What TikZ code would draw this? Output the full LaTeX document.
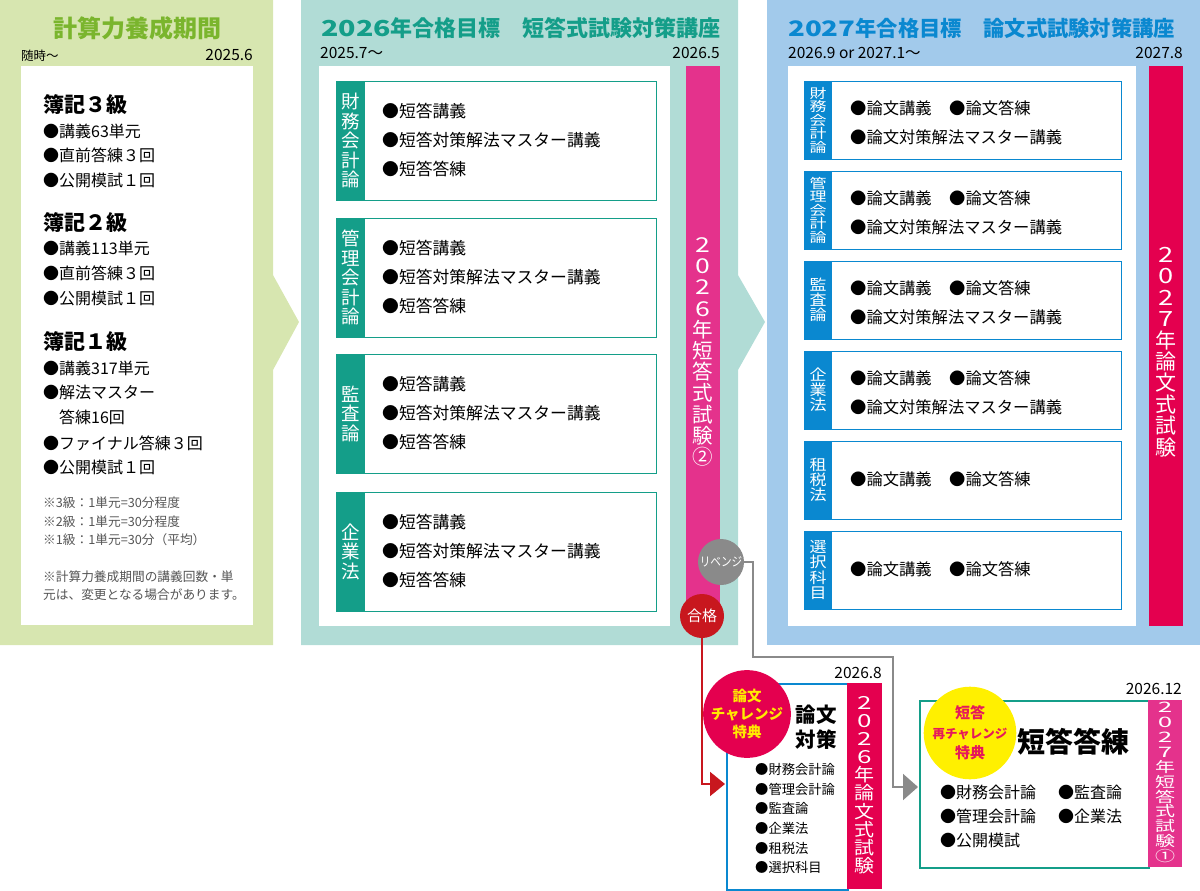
\documentclass[tikz,border=0pt]{standalone}
\usepackage{fontspec}
\usepackage{graphicx}
\setmainfont{Noto Sans CJK JP}
\usetikzlibrary{arrows.meta}
\definecolor{greenbg}{HTML}{D7E6B0}
\definecolor{greentitle}{HTML}{7AB52D}
\definecolor{tealbg}{HTML}{B1DCD6}
\definecolor{tealdark}{HTML}{149E89}
\definecolor{bluebg}{HTML}{A2CAEB}
\definecolor{bluedark}{HTML}{0A88D0}
\definecolor{pinkbar}{HTML}{E4328C}
\definecolor{crimson}{HTML}{E4004F}
\definecolor{gokakured}{HTML}{C8171E}
\definecolor{revgrey}{HTML}{8A8A8A}
\definecolor{yel}{HTML}{FFF000}
\definecolor{yeltext}{HTML}{FFEA00}
\definecolor{tanred}{HTML}{E6195A}
\definecolor{notegrey}{HTML}{555555}
\newcommand\fz[1]{\fontsize{#1}{#1}\selectfont}
\newcommand\dd[1]{\scalebox{1.3}[1]{#1}}
\newcommand\vstk[3]{\scalebox{1}[#1]{\vbox{\baselineskip=#2\lineskiplimit=-100pt\lineskip=0pt\halign{\hfil##\hfil\cr#3\crcr}}}}
\begin{document}
\begin{tikzpicture}[x=1pt,y=-1pt,
  tx/.style={anchor=west,inner sep=0pt},
  txe/.style={anchor=east,inner sep=0pt},
  tc/.style={inner sep=0pt},
  tbox/.style={draw=tealdark,line width=1.2pt,fill=white,anchor=north west,minimum width=320pt,minimum height=119pt,inner sep=0pt},
  bbox/.style={draw=bluedark,line width=1.2pt,fill=white,anchor=north west,minimum width=317pt,minimum height=78pt,inner sep=0pt},
  tline/.style={tx,font=\fz{16.8}},
  bline/.style={tx,font=\fz{16.3}},
  gline/.style={tx,font=\fz{16}},
  ghead/.style={tx,font=\fz{21}\bfseries},
  note/.style={tx,font=\fz{12.7},text=notegrey},
  datel/.style={tx,font=\fz{15.5}},
  dater/.style={txe,font=\fz{15.5}},
  tstrip/.style={tc,text=white,font=\fz{18.5}},
  bstrip/.style={tc,text=white,font=\fz{17}},
  redline/.style={draw=gokakured,line width=2pt,-{Triangle[length=15pt,width=24pt]}},
  greyline/.style={draw=revgrey,line width=2pt,-{Triangle[length=15pt,width=26pt]}},
  bullets/.style={tx,font=\fz{13.3}}
]
\useasboundingbox (0,0) rectangle (1200,891);

% ===== green panel =====
\fill[greenbg] (0,0) -- (273,0) -- (273,275) -- (299,322) -- (273,370) -- (273,645) -- (0,645) -- cycle;
\fill[white] (21,66) rectangle (253,625);
\node[tc,font=\fz{24}\bfseries,text=greentitle] (gtitle) at (137,28) {計算力養成期間};
\node[tx,font=\fz{12.5}] (gfrom) at (21,56) {随時～};
\node[dater] (gto) at (253,55) {2025.6};
\node[ghead] (g1) at (43,105) {簿記３級};
\node[gline] (g2) at (43,131) {●講義63単元};
\node[gline] (g3) at (43,155) {●直前答練３回};
\node[gline] (g4) at (43,180) {●公開模試１回};
\node[ghead] (g5) at (43,223) {簿記２級};
\node[gline] (g6) at (43,248) {●講義113単元};
\node[gline] (g7) at (43,273) {●直前答練３回};
\node[gline] (g8) at (43,298) {●公開模試１回};
\node[ghead] (g9) at (43,342) {簿記１級};
\node[gline] (g10) at (43,368) {●講義317単元};
\node[gline] (g11) at (43,392) {●解法マスター};
\node[gline] (g12) at (59,417) {答練16回};
\node[gline] (g13) at (43,443) {●ファイナル答練３回};
\node[gline] (g14) at (43,467) {●公開模試１回};
\node[note] (n1) at (43,503) {※3級：1単元=30分程度};
\node[note] (n2) at (43,522) {※2級：1単元=30分程度};
\node[note] (n3) at (43,540) {※1級：1単元=30分（平均）};
\node[note] (n4) at (43,577) {※計算力養成期間の講義回数・単};
\node[note] (n5) at (43,595) {元は、変更となる場合があります。};

% ===== teal panel =====
\fill[tealbg] (301,0) -- (738,0) -- (738,275) -- (765,322) -- (738,370) -- (738,645) -- (301,645) -- cycle;
\fill[white] (319,66) rectangle (670,626);
\fill[pinkbar] (686,66) rectangle (720,626);
\node[tx,font=\fz{22}\bfseries,text=tealdark] (ttitle) at (321,28) {\dd{2026}年合格目標　短答式試験対策講座};
\node[datel] (tfrom) at (320,53) {2025.7～};
\node[dater] (tto) at (720,53) {2026.5};

\node[tbox] (tb1) at (336,81) {};
\fill[tealdark] (336,81) rectangle (365,200);
\node[tstrip] (tl1) at (350.5,140.5) {\vstk{1}{19.5pt}{財\cr 務\cr 会\cr 計\cr 論}};
\node[tline] (t11) at (382,111) {●短答講義};
\node[tline] (t12) at (382,140) {●短答対策解法マスター講義};
\node[tline] (t13) at (382,169) {●短答答練};

\node[tbox] (tb2) at (336,218) {};
\fill[tealdark] (336,218) rectangle (365,337);
\node[tstrip] (tl2) at (350.5,277.5) {\vstk{1}{19.5pt}{管\cr 理\cr 会\cr 計\cr 論}};
\node[tline] (t21) at (382,248) {●短答講義};
\node[tline] (t22) at (382,277) {●短答対策解法マスター講義};
\node[tline] (t23) at (382,306) {●短答答練};

\node[tbox] (tb3) at (336,354) {};
\fill[tealdark] (336,354) rectangle (365,473);
\node[tstrip] (tl3) at (350.5,413.5) {\vstk{1}{19.5pt}{監\cr 査\cr 論}};
\node[tline] (t31) at (382,384) {●短答講義};
\node[tline] (t32) at (382,413) {●短答対策解法マスター講義};
\node[tline] (t33) at (382,442) {●短答答練};

\node[tbox] (tb4) at (336,492) {};
\fill[tealdark] (336,492) rectangle (365,611);
\node[tstrip] (tl4) at (350.5,551.5) {\vstk{1}{19.5pt}{企\cr 業\cr 法}};
\node[tline] (t41) at (382,522) {●短答講義};
\node[tline] (t42) at (382,551) {●短答対策解法マスター講義};
\node[tline] (t43) at (382,580) {●短答答練};

\node[tc,text=white,font=\fz{20.5}] (tbar) at (703,352) {\vstk{1}{21.2pt}{\dd2\cr \dd0\cr \dd2\cr \dd6\cr 年\cr 短\cr 答\cr 式\cr 試\cr 験\cr ②}};

% ===== blue panel =====
\fill[bluebg] (767,0) rectangle (1200,645);
\fill[white] (788,66) rectangle (1136,626);
\fill[crimson] (1149,66) rectangle (1183,626);
\node[tx,font=\fz{21.3}\bfseries,text=bluedark] (btitle) at (788,28) {\dd{2027}年合格目標　論文式試験対策講座};
\node[datel] (bfrom) at (788,53) {2026.9 or 2027.1～};
\node[dater] (bto) at (1183,53) {2027.8};

\node[bbox] (bb1) at (804,81) {};
\fill[bluedark] (804,81) rectangle (832,159);
\node[bstrip] (bl1) at (818,120) {\vstk{0.78}{17.3pt}{財\cr 務\cr 会\cr 計\cr 論}};
\node[bline] (b11) at (850,108) {●論文講義};
\node[bline] (b12) at (949,108) {●論文答練};
\node[bline] (b13) at (850,137) {●論文対策解法マスター講義};

\node[bbox] (bb2) at (804,171) {};
\fill[bluedark] (804,171) rectangle (832,249);
\node[bstrip] (bl2) at (818,210) {\vstk{0.78}{17.3pt}{管\cr 理\cr 会\cr 計\cr 論}};
\node[bline] (b21) at (850,198) {●論文講義};
\node[bline] (b22) at (949,198) {●論文答練};
\node[bline] (b23) at (850,227) {●論文対策解法マスター講義};

\node[bbox] (bb3) at (804,261) {};
\fill[bluedark] (804,261) rectangle (832,339);
\node[bstrip] (bl3) at (818,300) {\vstk{0.88}{17.3pt}{監\cr 査\cr 論}};
\node[bline] (b31) at (850,288) {●論文講義};
\node[bline] (b32) at (949,288) {●論文答練};
\node[bline] (b33) at (850,317) {●論文対策解法マスター講義};

\node[bbox] (bb4) at (804,351) {};
\fill[bluedark] (804,351) rectangle (832,429);
\node[bstrip] (bl4) at (818,390) {\vstk{0.88}{17.3pt}{企\cr 業\cr 法}};
\node[bline] (b41) at (850,378) {●論文講義};
\node[bline] (b42) at (949,378) {●論文答練};
\node[bline] (b43) at (850,407) {●論文対策解法マスター講義};

\node[bbox] (bb5) at (804,441) {};
\fill[bluedark] (804,441) rectangle (832,519);
\node[bstrip] (bl5) at (818,480) {\vstk{0.88}{17.3pt}{租\cr 税\cr 法}};
\node[bline] (b51) at (850,479) {●論文講義};
\node[bline] (b52) at (949,479) {●論文答練};

\node[bbox] (bb6) at (804,531) {};
\fill[bluedark] (804,531) rectangle (832,609);
\node[bstrip] (bl6) at (818,570) {\vstk{0.88}{17.3pt}{選\cr 択\cr 科\cr 目}};
\node[bline] (b61) at (850,569) {●論文講義};
\node[bline] (b62) at (949,569) {●論文答練};

\node[tc,text=white,font=\fz{21}] (bbar) at (1166,352) {\vstk{1}{21.4pt}{\dd2\cr \dd0\cr \dd2\cr \dd7\cr 年\cr 論\cr 文\cr 式\cr 試\cr 験}};

% ===== circles =====
\node[circle,fill=revgrey,minimum size=46pt,inner sep=0pt,text=white,font=\fz{12.5}] (revenge) at (721,562) {\scalebox{0.85}[1]{リベンジ}};
\node[circle,fill=gokakured,minimum size=44pt,inner sep=0pt,text=white,font=\fz{15}] (gokaku) at (702,616) {合格};

% ===== bottom: ronbun =====
\node[draw=bluedark,line width=1.5pt,fill=white,anchor=north west,minimum width=121pt,minimum height=206pt,inner sep=0pt] (rbox) at (726,683) {};
\fill[crimson] (847,683) rectangle (882,889);
\node[dater] (rdate) at (882,673) {2026.8};
\node[tc,text=white,font=\fz{20}] (rbar) at (864.5,785) {\vstk{0.9}{20.2pt}{\dd2\cr \dd0\cr \dd2\cr \dd6\cr 年\cr 論\cr 文\cr 式\cr 試\cr 験}};
\node[tc,font=\fz{20.5}\bfseries] (rtitle1) at (816,715) {論文};
\node[tc,font=\fz{20.5}\bfseries] (rtitle2) at (816,740) {対策};
\node[bullets] (r1) at (755,769) {●財務会計論};
\node[bullets] (r2) at (755,789) {●管理会計論};
\node[bullets] (r3) at (755,808) {●監査論};
\node[bullets] (r4) at (755,828) {●企業法};
\node[bullets] (r5) at (755,848) {●租税法};
\node[bullets] (r6) at (755,867) {●選択科目};
\node[circle,fill=crimson,minimum size=80pt,inner sep=0pt,text=yeltext,font=\fontsize{14.5}{18}\selectfont\bfseries,align=center] (rcirc) at (747,714) {論文\\チャレンジ\\特典};

% ===== bottom: tanto =====
\node[draw=tealdark,line width=1.5pt,fill=white,anchor=north west,minimum width=229pt,minimum height=167pt,inner sep=0pt] (sbox) at (919,700) {};
\fill[pinkbar] (1148,700) rectangle (1182,867);
\node[dater] (sdate) at (1182,689) {2026.12};
\node[tc,text=white,font=\fz{20}] (sbar) at (1165,782.5) {\vstk{0.72}{20.7pt}{\dd2\cr \dd0\cr \dd2\cr \dd7\cr 年\cr 短\cr 答\cr 式\cr 試\cr 験\cr ①}};
\node[tc,font=\fz{28}\bfseries] (stitle) at (1073,742) {短答答練};
\node[tx,font=\fz{16}] (s1) at (940,792) {●財務会計論};
\node[tx,font=\fz{16}] (s2) at (1058,792) {●監査論};
\node[tx,font=\fz{16}] (s3) at (940,816) {●管理会計論};
\node[tx,font=\fz{16}] (s4) at (1058,816) {●企業法};
\node[tx,font=\fz{16}] (s5) at (940,840) {●公開模試};
\node[circle,fill=yel,minimum size=78pt,inner sep=0pt,text=tanred,font=\fontsize{15}{20}\selectfont\bfseries,align=center] (scirc) at (970,733) {短答\\{\fz{12.5}再チャレンジ}\\特典};

% ===== connectors =====
\coordinate (rin) at (725,784);
\coordinate (sin) at (918,787);
\draw[redline] (gokaku.south) |- (rin);
\draw[greyline] (revenge.east) -- (753,562) -- (753,657) -- (893,657) |- (sin);
\end{tikzpicture}
\end{document}
